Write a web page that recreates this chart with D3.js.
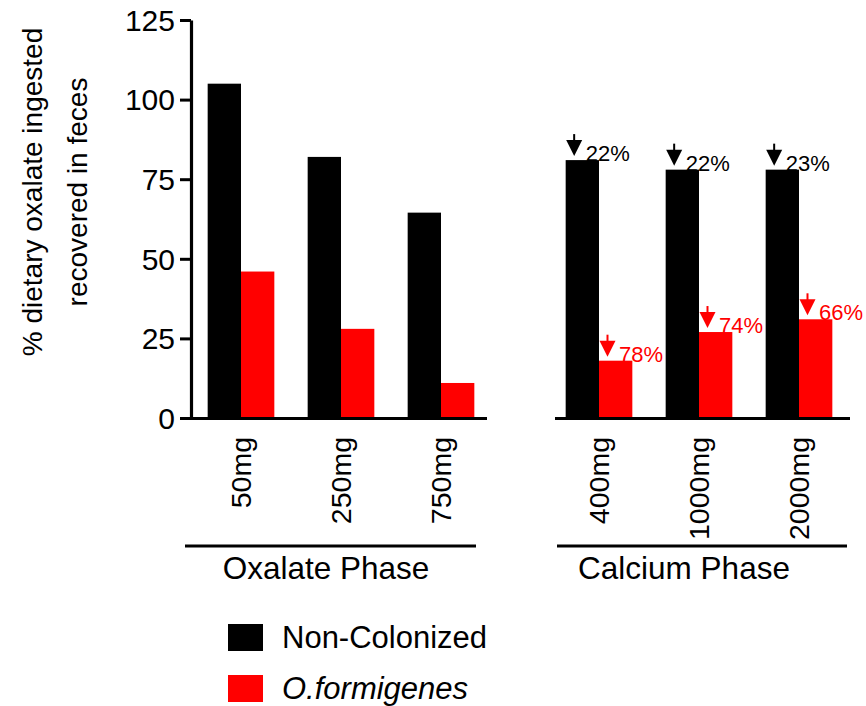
<!DOCTYPE html>
<html>
<head>
<meta charset="utf-8">
<script src="https://cdn.jsdelivr.net/npm/d3@7"></script>
<style>
  body { margin: 0; background: #fff; }
  svg { font-family: "Liberation Sans", Arial, sans-serif; }
</style>
</head>
<body>
<div id="chart"></div>
<script>
let width = 866,
  height = 706

// data
let oxalateDoses = ['50mg', '250mg', '750mg']
let oxalateNonCol = [105, 82, 64.5]
let oxalateOform = [46, 28, 11]

let calciumDoses = ['400mg', '1000mg', '2000mg']
let calciumNonCol = [81, 78, 78]
let calciumOform = [18, 27, 31]
let calciumNonColDrop = ['22%', '22%', '23%']
let calciumOformDrop = ['78%', '74%', '66%']

let yTicks = [0, 25, 50, 75, 100, 125]
let seriesNames = ['Non-Colonized', 'O.formigenes']
let seriesColors = ['#000000', '#ff0000']

let svg = d3.select('#chart').append('svg')
  .attr('width', width)
  .attr('height', height)

let y = d3.scaleLinear()
  .domain([0, 125])
  .range([418, 20])

let yAxis = svg.append('g')
  .attr('transform', 'translate(191,0)')
  .call(d3.axisLeft(y).tickValues(yTicks).tickSize(11).tickSizeOuter(0).tickPadding(5))

yAxis.select('.domain').attr('stroke-width', 3.2)
yAxis.selectAll('.tick line').attr('stroke-width', 3)
yAxis.selectAll('.tick text')
  .attr('font-size', 30)
  .attr('dy', '0.34em')
  .attr('fill', '#000')
  .attr('font-family', '"Liberation Sans", Arial, sans-serif')

// y title, two lines
let yTitle = svg.append('text')
  .attr('transform', 'translate(0,192) rotate(-90)')
  .attr('text-anchor', 'middle')
  .attr('font-size', 28)
yTitle.append('tspan').attr('x', 0).attr('y', 42).text('% dietary oxalate ingested')
yTitle.append('tspan').attr('x', 0).attr('y', 87).text('recovered in feces')

function panel (doses, nonCol, oform, range, axisX0, axisX1, phaseX0, phaseX1, phaseName, labelX) {
  let x0 = d3.scaleBand()
    .domain(doses)
    .range(range)
    .paddingInner(1 / 3)
    .paddingOuter(1 / 6)

  let x1 = d3.scaleBand()
    .domain([0, 1])
    .range([0, x0.bandwidth()])

  let rows = doses.map((d, i) => ({ dose: d, values: [nonCol[i], oform[i]] }))

  let g = svg.append('g')

  let groups = g.selectAll('.group')
    .data(rows)
    .enter().append('g')
    .attr('class', 'group')
    .attr('transform', d => 'translate(' + x0(d.dose) + ',0)')

  groups.selectAll('rect')
    .data(d => d.values)
    .enter().append('rect')
    .attr('x', (d, i) => x1(i))
    .attr('width', x1.bandwidth())
    .attr('y', d => y(d))
    .attr('height', d => y(0) - y(d))
    .attr('fill', (d, i) => seriesColors[i])

  // baseline
  g.append('line')
    .attr('x1', axisX0).attr('x2', axisX1)
    .attr('y1', y(0) + 0.5).attr('y2', y(0) + 0.5)
    .attr('stroke', '#000')
    .attr('stroke-width', 3.2)

  // rotated dose labels
  g.selectAll('.dose')
    .data(doses)
    .enter().append('text')
    .attr('class', 'dose')
    .attr('transform', d => 'translate(' + (x0(d) + x0.bandwidth() / 2) + ',437) rotate(-90)')
    .attr('text-anchor', 'end')
    .attr('dy', '0.35em')
    .attr('font-size', 28.5)
    .text(d => d)

  // phase bracket
  g.append('line')
    .attr('x1', phaseX0).attr('x2', phaseX1)
    .attr('y1', 546).attr('y2', 546)
    .attr('stroke', '#000')
    .attr('stroke-width', 3.2)

  g.append('text')
    .attr('x', labelX)
    .attr('y', 579)
    .attr('text-anchor', 'middle')
    .attr('font-size', 31.5)
    .text(phaseName)

  return { x0: x0, x1: x1 }
}

panel(oxalateDoses, oxalateNonCol, oxalateOform, [191, 491], 180, 487, 185, 476, 'Oxalate Phase', 326)
let cal = panel(calciumDoses, calciumNonCol, calciumOform, [549, 849], 555, 850, 557, 847, 'Calcium Phase', 684)

// reduction arrows + labels on calcium phase
function arrowMark (xLeft, top, color, label) {
  let ax = xLeft + 8.5
  let g = svg.append('g')
  g.append('line')
    .attr('x1', ax).attr('x2', ax)
    .attr('y1', top - 26).attr('y2', top - 15)
    .attr('stroke', color)
    .attr('stroke-width', 2)
  g.append('path')
    .attr('d', 'M' + (ax - 8) + ',' + (top - 20) + 'L' + (ax + 8) + ',' + (top - 20) + 'L' + ax + ',' + (top - 4) + 'Z')
    .attr('fill', color)
  g.append('text')
    .attr('x', xLeft + 20)
    .attr('y', top + 1)
    .attr('font-size', 22)
    .attr('fill', color)
    .text(label)
}

calciumDoses.forEach(function (d, i) {
  let bx = cal.x0(d)
  arrowMark(bx + cal.x1(0), y(calciumNonCol[i]), seriesColors[0], calciumNonColDrop[i])
  arrowMark(bx + cal.x1(1), y(calciumOform[i]), seriesColors[1], calciumOformDrop[i])
})

// legend
let legend = svg.selectAll('.legend')
  .data(seriesNames)
  .enter().append('g')
  .attr('class', 'legend')
  .attr('transform', (d, i) => 'translate(228,' + (624 + i * 51) + ')')

legend.append('rect')
  .attr('width', 35)
  .attr('height', 27)
  .attr('fill', (d, i) => seriesColors[i])

legend.append('text')
  .attr('x', 54)
  .attr('y', 24)
  .attr('font-size', 31)
  .attr('font-style', (d, i) => i === 1 ? 'italic' : 'normal')
  .text(d => d)
</script>
</body>
</html>
